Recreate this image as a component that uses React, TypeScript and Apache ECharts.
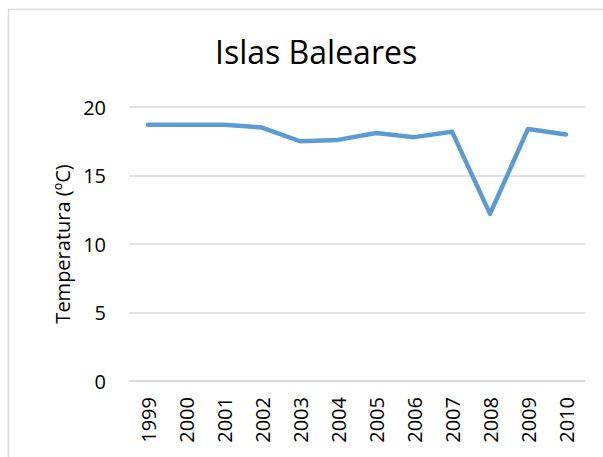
import React, { useEffect, useRef } from "react";
import * as echarts from "echarts";

const years = ["1999", "2000", "2001", "2002", "2003", "2004", "2005", "2006", "2007", "2008", "2009", "2010"];
const temperatures = [18.7, 18.7, 18.7, 18.5, 17.5, 17.6, 18.1, 17.8, 18.2, 12.2, 18.4, 18.0];
const titleText = "Islas Baleares";
const yAxisName = "Temperatura (ºC)";

export default function App() {
  const ref = useRef<HTMLDivElement>(null);
  useEffect(() => {
    document.body.style.margin = "0";
    const chart = echarts.init(ref.current!, null, { renderer: "svg" });
    const font = "'Open Sans', sans-serif";
    chart.setOption({
      animation: false,
      backgroundColor: "#ffffff",
      title: {
        text: titleText,
        left: 210,
        top: 30,
        textStyle: { fontFamily: font, fontSize: 32, fontWeight: "normal", color: "#000000" },
      },
      graphic: [
        {
          type: "rect",
          shape: { x: 8.5, y: 9.5, width: 800, height: 800 },
          style: { fill: "none", stroke: "#d9d9d9", lineWidth: 1.5 },
          silent: true,
        },
      ],
      grid: { left: 129, right: 18, top: 107, bottom: 76, containLabel: false },
      xAxis: {
        type: "category",
        data: years,
        boundaryGap: true,
        axisLine: { show: true, lineStyle: { color: "#d9d9d9", width: 1.5 } },
        axisTick: { show: false },
        axisLabel: { rotate: 90, margin: 16, fontFamily: font, fontSize: 20, color: "#000000" },
      },
      yAxis: {
        type: "value",
        min: 0,
        max: 20,
        interval: 5,
        name: yAxisName,
        nameLocation: "middle",
        nameGap: 55,
        nameTextStyle: { fontFamily: font, fontSize: 20, color: "#000000" },
        axisLine: { show: false },
        axisTick: { show: false },
        splitLine: { lineStyle: { color: "#d9d9d9", width: 1.5 } },
        axisLabel: { margin: 23, fontFamily: font, fontSize: 20, color: "#000000" },
      },
      series: [
        {
          type: "line",
          data: temperatures,
          symbol: "none",
          lineStyle: { color: "#5b9bd5", width: 4.5, cap: "round", join: "round" },
        },
      ],
    });
    return () => chart.dispose();
  }, []);
  return <div ref={ref} style={{ width: 603, height: 457 }} />;
}
